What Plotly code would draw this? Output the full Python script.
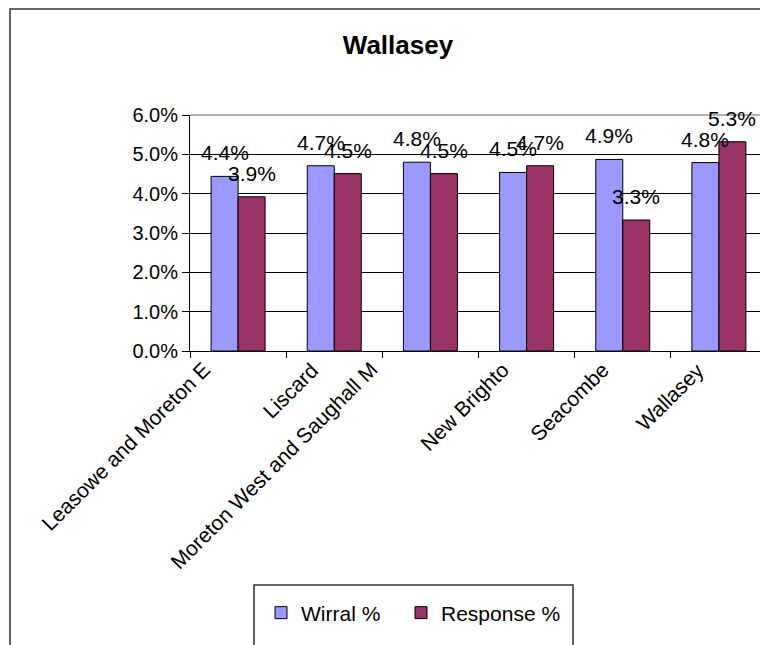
import plotly.graph_objects as go

categories = ["Leasowe and Moreton E", "Liscard", "Moreton West and Saughall M",
              "New Brighto", "Seacombe", "Wallasey"]
wirral = [4.44, 4.71, 4.80, 4.54, 4.87, 4.79]
response = [3.92, 4.51, 4.51, 4.71, 3.33, 5.32]
series_names = ["Wirral %", "Response %"]
colors = ["#9999FF", "#993366"]
y_ticks = [0, 1, 2, 3, 4, 5, 6]
# horizontal offset (px) of each rotated category label's end from its category centre
label_dx = [-28, -16, -53, -18, -14, -15]

W, H = 768, 645
OFF = 8  # page body margin: figure origin sits at (8, 8) in the screenshot
ML, MR, MT, MB = 182, 9, 107, 302
PW = W - ML - MR
PH = H - MT - MB
BARGAP = 0.4386
FONT = "Liberation Sans, Arial, sans-serif"


def px_x(px):
    return (px - OFF - ML) / PW


def px_y(py):
    return (H - MB - (py - OFF)) / PH


fig = go.Figure()
for name, vals, col, leg in zip(series_names, [wirral, response], colors, ["legend", "legend2"]):
    fig.add_trace(go.Bar(
        x=categories, y=vals, name=name, legend=leg,
        marker=dict(color=col, line=dict(color="black", width=1)),
    ))

cat_px = PW / len(categories)
half_bar = (1 - BARGAP) / 4 * cat_px
annotations = []
for vals, sh in [(wirral, -half_bar), (response, half_bar)]:
    for c, v in zip(categories, vals):
        annotations.append(dict(
            x=c, y=v, xref="x", yref="y", text=f"{v:.1f}%",
            showarrow=False, xshift=sh, yshift=10, yanchor="bottom",
            font=dict(family=FONT, size=21, color="black"),
        ))

# rotated category labels
for c, dx in zip(categories, label_dx):
    annotations.append(dict(
        x=c, y=0, xref="x", yref="paper", text=c, textangle=-45,
        showarrow=False, xanchor="right", yanchor="top",
        xshift=dx + 7, yshift=-4,
        font=dict(family=FONT, size=21, color="black"),
    ))

shapes = [
    dict(type="rect", xref="paper", yref="paper",
         x0=px_x(10), x1=px_x(W + 40), y0=px_y(H + 40), y1=px_y(9),
         line=dict(color="#333333", width=1.5), fillcolor="rgba(0,0,0,0)", layer="below"),
    dict(type="rect", xref="paper", yref="paper",
         x0=px_x(254), x1=px_x(573), y0=px_y(H + 40), y1=px_y(585),
         line=dict(color="#333333", width=1.5), fillcolor="rgba(0,0,0,0)", layer="below"),
    dict(type="line", xref="paper", yref="paper", x0=0, x1=1, y0=1, y1=1,
         line=dict(color="#999999", width=1.5)),
    dict(type="line", xref="paper", yref="paper", x0=1, x1=1, y0=0, y1=1,
         line=dict(color="#999999", width=1.5)),
]

legend_common = dict(orientation="h", xanchor="left", yanchor="middle",
                     xref="paper", yref="paper", bgcolor="rgba(0,0,0,0)",
                     font=dict(family=FONT, size=21, color="black"))

fig.update_layout(
    width=W, height=H,
    margin=dict(l=ML, r=MR, t=MT, b=MB, pad=0),
    paper_bgcolor="white", plot_bgcolor="white",
    barmode="group", bargap=BARGAP, bargroupgap=0,
    font=dict(family=FONT, size=20, color="black"),
    title=dict(text="<b>Wallasey</b>", x=px_x(398), xref="paper", xanchor="center",
               y=1 - (45 - OFF) / H, yanchor="middle",
               font=dict(family=FONT, size=26, color="black")),
    showlegend=True,
    legend=dict(x=px_x(261), y=px_y(613), **legend_common),
    legend2=dict(x=px_x(401), y=px_y(613), **legend_common),
    xaxis=dict(type="category", range=[-0.5, len(categories) - 0.5], autorange=False,
               showline=True, linecolor="black", linewidth=1,
               ticks="outside", tickson="boundaries", ticklen=6, tickcolor="black",
               showticklabels=False, automargin=False),
    yaxis=dict(range=[0, 6], autorange=False, tickvals=y_ticks,
               ticktext=[f"{t:.1f}%" for t in y_ticks],
               showline=True, linecolor="black", linewidth=1,
               ticks="outside", ticklen=7, tickcolor="black",
               showgrid=True, gridcolor="black", gridwidth=1, zeroline=False,
               automargin=False,
               tickfont=dict(family=FONT, size=20, color="black")),
    annotations=annotations,
    shapes=shapes,
)

fig.write_html("out.html")
